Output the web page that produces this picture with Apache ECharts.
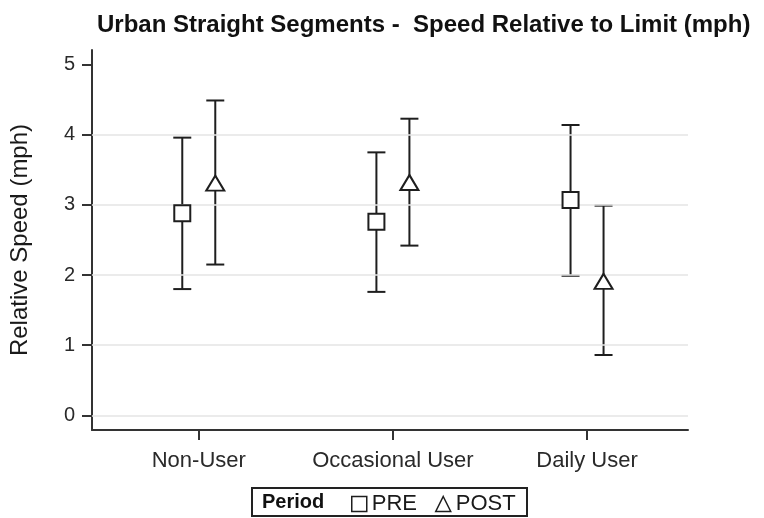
<!DOCTYPE html>
<html>
<head>
<meta charset="utf-8">
<script src="https://cdn.jsdelivr.net/npm/echarts@6/dist/echarts.min.js"></script>
<style>
  html, body { margin: 0; padding: 0; background: #fff; }
  #chart { width: 764px; height: 518px; }
</style>
</head>
<body>
<div id="chart"></div>
<script>
// User groups along the x axis
const categories = ['Non-User', 'Occasional User', 'Daily User'];

// PRE period: mean relative speed and confidence limits (mph)
const preMean = [2.88, 2.76, 3.07];
const preLow  = [1.80, 1.76, 1.99];
const preHigh = [3.96, 3.75, 4.14];

// POST period: mean relative speed and confidence limits (mph)
const postMean = [3.31, 3.32, 1.91];
const postLow  = [2.15, 2.42, 0.86];
const postHigh = [4.49, 4.23, 2.99];

// Axis ticks
const yTicks = [0, 1, 2, 3, 4, 5];
const gridTicks = [0, 1, 2, 3, 4];
const xTicks = [1, 2, 3];

const DODGE = 0.085;   // horizontal offset of each period within a group
const INK = '#1e1e1e';
const FONT = 'Liberation Sans, Arial, sans-serif';

function points(means, shift) {
  return means.map((m, i) => [xTicks[i] + shift, m]);
}
function intervals(lows, highs, shift) {
  return lows.map((lo, i) => [xTicks[i] + shift, lo, highs[i]]);
}

// Vertical whisker with caps at both ends
function renderWhisker(params, api) {
  const x = api.value(0);
  const top = api.coord([x, api.value(2)]);
  const bot = api.coord([x, api.value(1)]);
  const half = 9;
  const style = { stroke: INK, lineWidth: 2 };
  return {
    type: 'group',
    children: [
      { type: 'line', shape: { x1: top[0], y1: top[1], x2: bot[0], y2: bot[1] }, style },
      { type: 'line', shape: { x1: top[0] - half, y1: top[1], x2: top[0] + half, y2: top[1] }, style },
      { type: 'line', shape: { x1: bot[0] - half, y1: bot[1], x2: bot[0] + half, y2: bot[1] }, style }
    ]
  };
}

const chart = echarts.init(document.getElementById('chart'), null, { renderer: 'canvas' });

chart.setOption({
  animation: false,
  backgroundColor: '#fff',
  textStyle: { fontFamily: FONT },
  title: {
    text: 'Urban Straight Segments -  Speed Relative to Limit (mph)',
    left: 92,
    top: 8,
    textStyle: { fontFamily: FONT, fontSize: 24, fontWeight: 'bold', color: '#111' }
  },
  grid: { left: 90, right: 76, top: 50, bottom: 88 },
  xAxis: {
    type: 'value',
    min: 0.45,
    max: 3.52,
    axisLine: { show: true, onZero: false, lineStyle: { color: '#333', width: 2 } },
    axisTick: { show: true, customValues: xTicks, length: 10, lineStyle: { color: '#333', width: 2 } },
    axisLabel: {
      customValues: xTicks,
      formatter: v => categories[Math.round(v) - 1] || '',
      fontSize: 22, color: '#2a2a2a', margin: 20, fontFamily: FONT
    },
    splitLine: { show: false }
  },
  yAxis: {
    type: 'value',
    min: -0.21,
    max: 5.21,
    name: 'Relative Speed (mph)',
    nameLocation: 'middle',
    nameGap: 60,
    nameTextStyle: { fontSize: 24, color: '#1a1a1a', fontFamily: FONT },
    axisLine: { show: true, onZero: false, lineStyle: { color: '#333', width: 2 } },
    axisTick: { show: true, customValues: yTicks, length: 10, lineStyle: { color: '#333', width: 2 } },
    axisLabel: { customValues: yTicks, fontSize: 20, color: '#2a2a2a', margin: 17, fontFamily: FONT },
    splitLine: { show: false }
  },
  legend: {
    left: 346,
    top: 488,
    itemWidth: 15,
    itemHeight: 15,
    itemGap: 18,
    textStyle: { fontSize: 22, color: '#1a1a1a', fontFamily: FONT },
    data: [
      { name: 'PRE', icon: 'rect', itemStyle: { color: '#fff', borderColor: INK, borderWidth: 1.5 } },
      { name: 'POST', icon: 'triangle', itemStyle: { color: '#fff', borderColor: INK, borderWidth: 1.5 } }
    ]
  },
  graphic: [
    {
      type: 'rect',
      shape: { x: 252, y: 488, width: 275, height: 28 },
      style: { fill: 'none', stroke: '#222', lineWidth: 2 }
    },
    {
      type: 'text',
      x: 262, y: 502,
      style: { text: 'Period', fontSize: 20, fontWeight: 'bold', fontFamily: FONT, fill: '#111', verticalAlign: 'middle' }
    }
  ],
  series: [
    {
      name: 'grid',
      type: 'line',
      data: [],
      silent: true,
      markLine: {
        silent: true,
        symbol: 'none',
        label: { show: false },
        lineStyle: { color: '#e4e4e4', width: 1.5, type: 'solid' },
        data: gridTicks.map(v => ({ yAxis: v }))
      }
    },
    {
      name: 'PRE-ci',
      type: 'custom',
      renderItem: renderWhisker,
      data: intervals(preLow, preHigh, -DODGE),
      z: 3
    },
    {
      name: 'POST-ci',
      type: 'custom',
      renderItem: renderWhisker,
      data: intervals(postLow, postHigh, DODGE),
      z: 3
    },
    {
      name: 'PRE',
      type: 'scatter',
      symbol: 'rect',
      symbolSize: 16,
      itemStyle: { color: '#fff', borderColor: INK, borderWidth: 2, opacity: 1 },
      data: points(preMean, -DODGE),
      z: 5
    },
    {
      name: 'POST',
      type: 'scatter',
      symbol: 'triangle',
      symbolSize: [18, 15],
      itemStyle: { color: '#fff', borderColor: INK, borderWidth: 2, opacity: 1 },
      data: points(postMean, DODGE),
      z: 5
    }
  ]
});
</script>
</body>
</html>
